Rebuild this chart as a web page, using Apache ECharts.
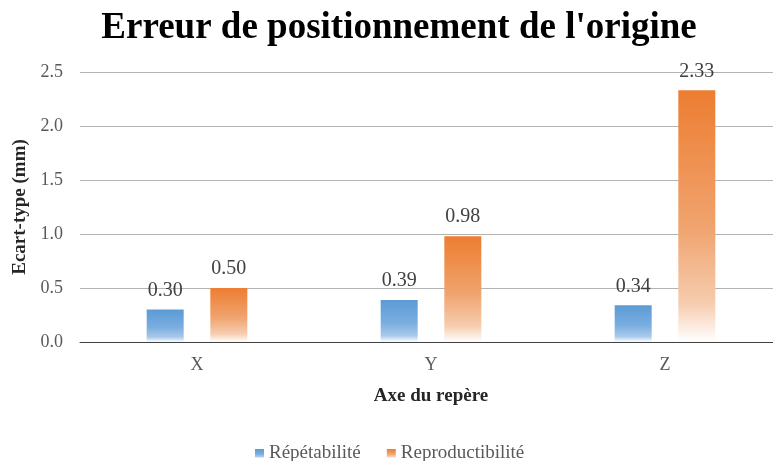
<!DOCTYPE html>
<html>
<head>
<meta charset="utf-8">
<title>Erreur de positionnement de l'origine</title>
<script src="https://cdn.jsdelivr.net/npm/echarts@6/dist/echarts.min.js"></script>
<style>
  html, body { margin: 0; padding: 0; background: #ffffff; }
  #chart { width: 773px; height: 461px; }
</style>
</head>
<body>
<div id="chart"></div>
<script>
// Axes of the reference frame
const categories = ['X', 'Y', 'Z'];
// Standard deviation of the origin position (mm)
const repetabilite = [0.30, 0.39, 0.34];
const reproductibilite = [0.50, 0.98, 2.33];
// Value axis ticks
const yTicks = [0, 0.5, 1.0, 1.5, 2.0, 2.5];

const serif = '"Liberation Serif", "Times New Roman", serif';

function fade(top, mid, low) {
  return new echarts.graphic.LinearGradient(0, 0, 0, 1, [
    { offset: 0, color: top },
    { offset: 0.55, color: mid },
    { offset: 0.85, color: low },
    { offset: 1, color: '#ffffff' }
  ]);
}

const chart = echarts.init(document.getElementById('chart'), null, { renderer: 'canvas' });

chart.setOption({
  backgroundColor: '#ffffff',
  animation: false,
  title: {
    text: "Erreur de positionnement de l'origine",
    left: 394,
    textAlign: 'center',
    top: 5,
    textStyle: { fontFamily: serif, fontWeight: 'bold', fontSize: 37, color: '#000000' }
  },
  legend: {
    left: 250,
    top: 439,
    itemWidth: 9,
    itemHeight: 9,
    itemGap: 26,
    icon: 'rect',
    textStyle: { fontFamily: serif, fontSize: 19, color: '#595959' },
    data: ['Répétabilité', 'Reproductibilité']
  },
  // plot area runs slightly past the right edge of the canvas
  grid: { left: 80, width: 702, top: 72, bottom: 119, outerBoundsMode: 'none' },
  xAxis: {
    type: 'category',
    data: categories,
    name: 'Axe du repère',
    nameLocation: 'middle',
    nameGap: 45,
    nameTextStyle: { fontFamily: serif, fontWeight: 'bold', fontSize: 19, color: '#262626' },
    axisLine: { lineStyle: { color: '#404040', width: 1 } },
    axisTick: { show: false },
    axisLabel: { fontFamily: serif, fontSize: 18, color: '#595959', margin: 14 }
  },
  yAxis: {
    type: 'value',
    min: yTicks[0],
    max: yTicks[yTicks.length - 1],
    interval: yTicks[1] - yTicks[0],
    name: 'Ecart-type (mm)',
    nameLocation: 'middle',
    nameRotate: 90,
    nameGap: 50,
    nameTextStyle: { fontFamily: serif, fontWeight: 'bold', fontSize: 19, color: '#262626' },
    axisLine: { show: false },
    axisTick: { show: false },
    axisLabel: {
      fontFamily: serif, fontSize: 18, color: '#595959', margin: 17,
      formatter: v => v.toFixed(1)
    },
    splitLine: { lineStyle: { color: '#b3b3b3', width: 1 } }
  },
  series: [
    {
      name: 'Répétabilité',
      type: 'bar',
      data: repetabilite,
      barWidth: 37,
      barGap: '72%',
      itemStyle: { color: fade('#5b9bd5', '#7aaee0', '#a9c9ea') },
      label: {
        show: true, position: 'top', distance: 9,
        fontFamily: serif, fontSize: 20, color: '#404040',
        formatter: p => p.value.toFixed(2)
      }
    },
    {
      name: 'Reproductibilité',
      type: 'bar',
      data: reproductibilite,
      barWidth: 37,
      itemStyle: { color: fade('#ed7d31', '#f0a46f', '#f6cdb0') },
      label: {
        show: true, position: 'top', distance: 9,
        fontFamily: serif, fontSize: 20, color: '#404040',
        formatter: p => p.value.toFixed(2)
      }
    }
  ]
});
</script>
</body>
</html>
